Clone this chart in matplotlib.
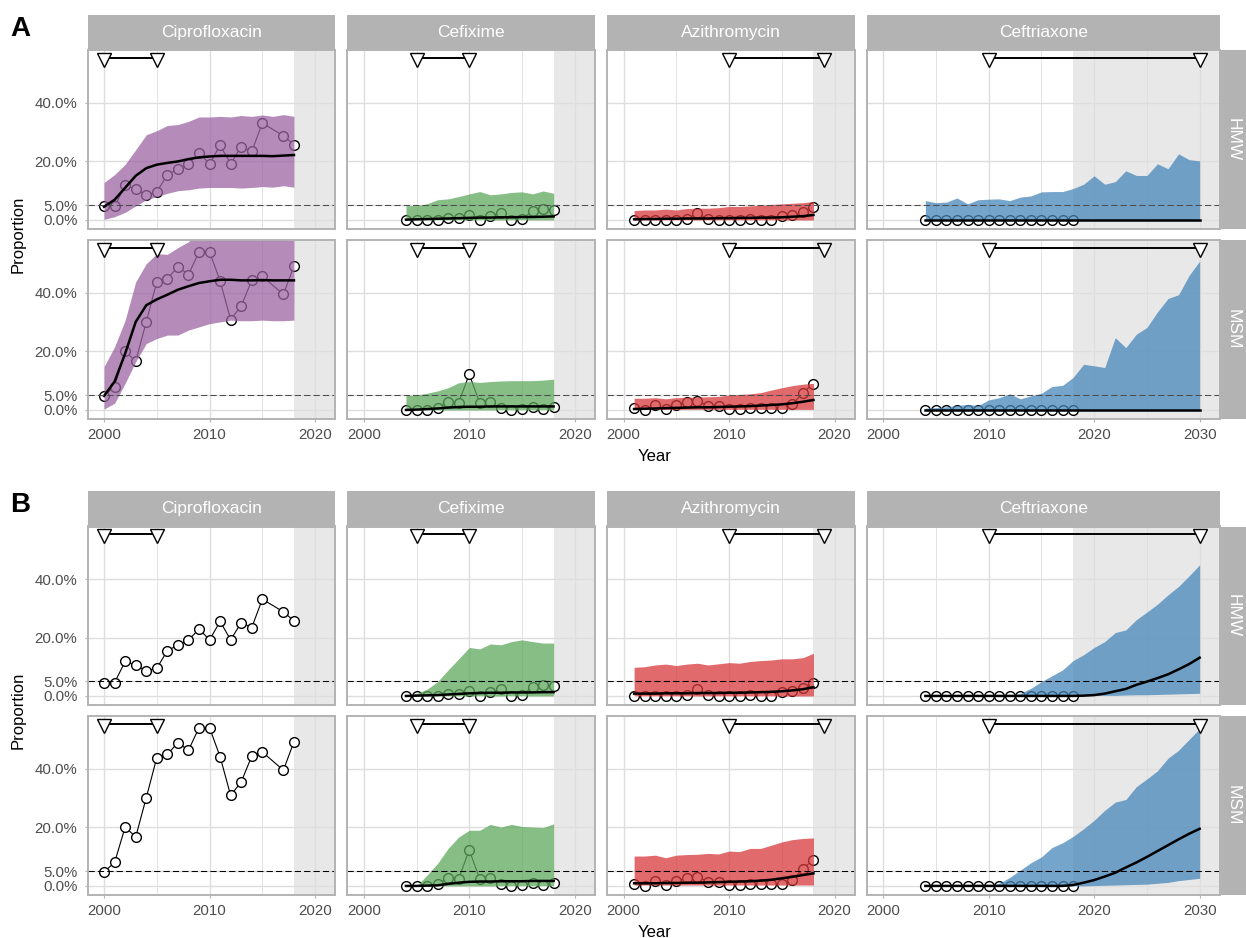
import matplotlib
matplotlib.use('Agg')
import matplotlib.pyplot as plt

plt.rcParams['font.family'] = ['Liberation Sans', 'DejaVu Sans']

W, H = 1246, 938

drugs = ['Ciprofloxacin', 'Cefixime', 'Azithromycin', 'Ceftriaxone']
groups = ['HMW', 'MSM']
fill_colors = ['#9B64A2', '#5EA85E', '#D7383B', '#4887BB']
policy_start = [2000, 2005, 2010, 2010]
policy_end = [2005, 2010, 2019, 2030]

# ---- observed proportions ----
cip_years = [2000, 2001, 2002, 2003, 2004, 2005, 2006, 2007, 2008, 2009, 2010,
             2011, 2012, 2013, 2014, 2015, 2017, 2018]
cip_hmw_obs = [0.046, 0.046, 0.118, 0.105, 0.086, 0.095, 0.155, 0.174, 0.191, 0.229,
               0.192, 0.255, 0.192, 0.251, 0.234, 0.331, 0.288, 0.257]
cip_msm_obs = [0.048, 0.080, 0.201, 0.167, 0.301, 0.438, 0.449, 0.489, 0.463, 0.540,
               0.540, 0.441, 0.309, 0.355, 0.443, 0.457, 0.395, 0.492]

cfx_years = [2004, 2005, 2006, 2007, 2008, 2009, 2010, 2011, 2012, 2013, 2014,
             2015, 2016, 2017, 2018]
cfx_hmw_obs = [0.0, 0.0, 0.0, 0.0, 0.008, 0.006, 0.017, 0.0, 0.015, 0.023, 0.0,
               0.002, 0.032, 0.038, 0.034]
cfx_msm_obs = [0.0, 0.0, 0.0, 0.006, 0.028, 0.025, 0.122, 0.023, 0.026, 0.006, 0.0,
               0.002, 0.009, 0.002, 0.011]

azm_years = [2001, 2002, 2003, 2004, 2005, 2006, 2007, 2008, 2009, 2010, 2011,
             2012, 2013, 2014, 2015, 2016, 2017, 2018]
azm_hmw_obs = [0.0, 0.0, 0.0, 0.0, 0.0, 0.003, 0.024, 0.002, 0.0, 0.0, 0.0,
               0.002, 0.0, 0.0, 0.015, 0.016, 0.027, 0.043]
azm_msm_obs = [0.005, 0.0, 0.018, 0.002, 0.017, 0.027, 0.031, 0.015, 0.012, 0.004,
               0.002, 0.005, 0.006, 0.008, 0.005, 0.019, 0.059, 0.090]

cro_years = [2004, 2005, 2006, 2007, 2008, 2009, 2010, 2011, 2012, 2013, 2014,
             2015, 2016, 2017, 2018]
cro_hmw_obs = [0.0, 0.0, 0.0, 0.0, 0.0, 0.0, 0.0, 0.0, 0.0, 0.0, 0.0, 0.0, 0.0, 0.0, 0.0]
cro_msm_obs = [0.0, 0.0, 0.0, 0.0, 0.0, 0.0, 0.0, 0.0, 0.0, 0.0, 0.0, 0.0, 0.0, 0.0, 0.0]

# ---- model A: median and interval ----
cip_fit_years = [2000, 2001, 2002, 2003, 2004, 2005, 2006, 2007, 2008, 2009, 2010,
                 2011, 2012, 2013, 2014, 2015, 2016, 2017, 2018]
cip_hmw_med_a = [0.045, 0.069, 0.110, 0.151, 0.177, 0.189, 0.195, 0.200, 0.208, 0.214,
                 0.217, 0.219, 0.219, 0.219, 0.219, 0.219, 0.218, 0.220, 0.222]
cip_hmw_lo_a = [0.002, 0.011, 0.026, 0.048, 0.069, 0.080, 0.091, 0.100, 0.103, 0.109,
                0.111, 0.111, 0.111, 0.109, 0.111, 0.114, 0.112, 0.117, 0.112]
cip_hmw_hi_a = [0.128, 0.155, 0.190, 0.240, 0.291, 0.305, 0.323, 0.326, 0.337, 0.352,
                0.352, 0.354, 0.352, 0.357, 0.354, 0.359, 0.354, 0.360, 0.354]
cip_msm_med_a = [0.048, 0.097, 0.193, 0.301, 0.358, 0.378, 0.394, 0.411, 0.423, 0.434,
                 0.440, 0.445, 0.445, 0.443, 0.443, 0.444, 0.443, 0.443, 0.443]
cip_msm_lo_a = [0.003, 0.023, 0.091, 0.165, 0.227, 0.244, 0.256, 0.256, 0.273, 0.284,
                0.295, 0.301, 0.307, 0.305, 0.305, 0.307, 0.305, 0.305, 0.307]
cip_msm_hi_a = [0.148, 0.216, 0.307, 0.438, 0.500, 0.534, 0.532, 0.555, 0.575, 0.610,
                0.620, 0.620, 0.620, 0.620, 0.620, 0.620, 0.620, 0.620, 0.620]

cfx_hmw_med_a = [0.001, 0.002, 0.003, 0.004, 0.005, 0.006, 0.007, 0.008, 0.008, 0.009,
                 0.009, 0.010, 0.010, 0.011, 0.012]
cfx_hmw_lo_a = [0.0, 0.0, 0.0, 0.0, 0.0, 0.0, 0.0, 0.0, 0.0, 0.0, 0.0, 0.0, 0.0, 0.0, 0.0]
cfx_hmw_hi_a = [0.049, 0.049, 0.055, 0.069, 0.072, 0.080, 0.089, 0.097, 0.086, 0.089,
                0.094, 0.096, 0.089, 0.099, 0.091]
cfx_msm_med_a = [0.0, 0.001, 0.003, 0.005, 0.008, 0.010, 0.011, 0.011, 0.012, 0.012,
                 0.012, 0.012, 0.012, 0.012, 0.012]
cfx_msm_lo_a = [0.0, 0.0, 0.0, 0.0, 0.0, 0.0, 0.0, 0.0, 0.0, 0.0, 0.0, 0.0, 0.0, 0.0, 0.0]
cfx_msm_hi_a = [0.049, 0.051, 0.057, 0.065, 0.076, 0.093, 0.097, 0.094, 0.097, 0.099,
                0.100, 0.100, 0.100, 0.102, 0.105]

azm_hmw_med_a = [0.002, 0.003, 0.003, 0.004, 0.004, 0.005, 0.005, 0.005, 0.006, 0.006,
                 0.007, 0.007, 0.008, 0.008, 0.009, 0.011, 0.013, 0.017]
azm_hmw_lo_a = [0.0, 0.0, 0.0, 0.0, 0.0, 0.0, 0.0, 0.0, 0.0, 0.0, 0.0, 0.0, 0.0, 0.0,
                0.0, 0.0, 0.0, 0.0]
azm_hmw_hi_a = [0.032, 0.034, 0.034, 0.037, 0.034, 0.039, 0.040, 0.040, 0.042, 0.046,
                0.046, 0.048, 0.050, 0.053, 0.055, 0.057, 0.059, 0.063]
azm_msm_med_a = [0.003, 0.004, 0.005, 0.006, 0.007, 0.008, 0.009, 0.009, 0.010, 0.011,
                 0.012, 0.013, 0.015, 0.017, 0.019, 0.023, 0.028, 0.034]
azm_msm_lo_a = [0.002, 0.002, 0.002, 0.002, 0.002, 0.002, 0.002, 0.002, 0.002, 0.002,
                0.002, 0.002, 0.002, 0.002, 0.002, 0.002, 0.002, 0.002]
azm_msm_hi_a = [0.040, 0.040, 0.042, 0.038, 0.042, 0.043, 0.044, 0.045, 0.046, 0.051,
                0.053, 0.055, 0.059, 0.068, 0.076, 0.083, 0.088, 0.091]

cro_fit_years = [2004, 2005, 2006, 2007, 2008, 2009, 2010, 2011, 2012, 2013, 2014,
                 2015, 2016, 2017, 2018, 2019, 2020, 2021, 2022, 2023, 2024, 2025,
                 2026, 2027, 2028, 2029, 2030]
cro_zero = [0.0, 0.0, 0.0, 0.0, 0.0, 0.0, 0.0, 0.0, 0.0, 0.0, 0.0, 0.0, 0.0, 0.0,
            0.0, 0.0, 0.0, 0.0, 0.0, 0.0, 0.0, 0.0, 0.0, 0.0, 0.0, 0.0, 0.0]
cro_hmw_hi_a = [0.066, 0.059, 0.061, 0.075, 0.055, 0.069, 0.071, 0.072, 0.066, 0.078,
                0.082, 0.096, 0.097, 0.097, 0.107, 0.122, 0.151, 0.122, 0.131, 0.168,
                0.152, 0.152, 0.192, 0.175, 0.226, 0.206, 0.202]
cro_msm_hi_a = [0.006, 0.008, 0.011, 0.015, 0.019, 0.015, 0.034, 0.042, 0.055, 0.038,
                0.048, 0.057, 0.080, 0.084, 0.111, 0.156, 0.151, 0.145, 0.247, 0.213,
                0.259, 0.282, 0.335, 0.381, 0.394, 0.460, 0.509]

# ---- model B: median and interval ----
cfx_hmw_med_b = [0.0, 0.001, 0.002, 0.003, 0.005, 0.007, 0.009, 0.010, 0.011, 0.011,
                 0.012, 0.012, 0.012, 0.013, 0.013]
cfx_hmw_hi_b = [0.003, 0.009, 0.023, 0.049, 0.089, 0.127, 0.166, 0.161, 0.178, 0.175,
                0.186, 0.192, 0.186, 0.181, 0.181]
cfx_msm_med_b = [0.0, 0.0, 0.001, 0.002, 0.007, 0.011, 0.014, 0.015, 0.015, 0.016,
                 0.016, 0.016, 0.017, 0.017, 0.017]
cfx_msm_hi_b = [0.0, 0.0, 0.037, 0.077, 0.128, 0.167, 0.190, 0.190, 0.210, 0.201,
                0.210, 0.203, 0.201, 0.199, 0.212]

azm_hmw_med_b = [0.008, 0.008, 0.008, 0.009, 0.009, 0.009, 0.010, 0.010, 0.010, 0.011,
                 0.011, 0.012, 0.013, 0.014, 0.016, 0.019, 0.023, 0.030]
azm_hmw_hi_b = [0.098, 0.100, 0.106, 0.109, 0.104, 0.109, 0.112, 0.106, 0.110, 0.114,
                0.112, 0.118, 0.121, 0.123, 0.127, 0.127, 0.131, 0.146]
azm_msm_med_b = [0.009, 0.009, 0.009, 0.010, 0.010, 0.011, 0.011, 0.012, 0.013, 0.014,
                 0.015, 0.016, 0.018, 0.021, 0.026, 0.031, 0.037, 0.043]
azm_msm_lo_b = [0.003, 0.003, 0.003, 0.003, 0.003, 0.003, 0.003, 0.003, 0.003, 0.003,
                0.003, 0.003, 0.003, 0.003, 0.003, 0.003, 0.003, 0.003]
azm_msm_hi_b = [0.102, 0.102, 0.105, 0.096, 0.105, 0.107, 0.108, 0.111, 0.109, 0.119,
                0.117, 0.128, 0.128, 0.139, 0.150, 0.158, 0.162, 0.164]

cro_hmw_med_b = [0.0, 0.0, 0.0, 0.0, 0.0, 0.0, 0.0, 0.0, 0.0, 0.0, 0.0, 0.0, 0.0, 0.0,
                 0.0, 0.001, 0.003, 0.008, 0.016, 0.024, 0.038, 0.049, 0.061, 0.074,
                 0.091, 0.109, 0.131]
cro_hmw_lo_b = [0.0, 0.0, 0.0, 0.0, 0.0, 0.0, 0.0, 0.0, 0.0, 0.0, 0.0, 0.0, 0.0, 0.0,
                0.0, 0.001, 0.001, 0.002, 0.002, 0.003, 0.004, 0.004, 0.005, 0.006,
                0.007, 0.008, 0.009]
cro_hmw_hi_b = [0.0, 0.0, 0.0, 0.0, 0.0, 0.0, 0.0, 0.0, 0.0, 0.009, 0.026, 0.049,
                0.069, 0.089, 0.121, 0.141, 0.166, 0.186, 0.217, 0.226, 0.261, 0.287,
                0.314, 0.346, 0.375, 0.411, 0.449]
cro_msm_med_b = [0.0, 0.0, 0.0, 0.0, 0.0, 0.0, 0.0, 0.0, 0.0, 0.0, 0.0, 0.0, 0.0, 0.0,
                 0.003, 0.011, 0.020, 0.032, 0.045, 0.063, 0.080, 0.099, 0.119, 0.139,
                 0.159, 0.178, 0.195]
cro_msm_lo_b = [0.0, 0.0, 0.0, 0.0, 0.0, 0.0, 0.0, 0.0, 0.0, 0.0, 0.0, 0.0, 0.0, 0.0,
                0.0, 0.0, 0.001, 0.002, 0.003, 0.004, 0.005, 0.006, 0.009, 0.012,
                0.018, 0.022, 0.026]
cro_msm_hi_b = [0.0, 0.0, 0.0, 0.0, 0.0, 0.0, 0.0, 0.009, 0.029, 0.054, 0.079, 0.099,
                0.131, 0.147, 0.169, 0.195, 0.224, 0.258, 0.286, 0.295, 0.339, 0.365,
                0.393, 0.436, 0.463, 0.500, 0.537]

obs = {
    ('Ciprofloxacin', 'HMW'): (cip_years, cip_hmw_obs),
    ('Ciprofloxacin', 'MSM'): (cip_years, cip_msm_obs),
    ('Cefixime', 'HMW'): (cfx_years, cfx_hmw_obs),
    ('Cefixime', 'MSM'): (cfx_years, cfx_msm_obs),
    ('Azithromycin', 'HMW'): (azm_years, azm_hmw_obs),
    ('Azithromycin', 'MSM'): (azm_years, azm_msm_obs),
    ('Ceftriaxone', 'HMW'): (cro_years, cro_hmw_obs),
    ('Ceftriaxone', 'MSM'): (cro_years, cro_msm_obs),
}

fits_a = {
    ('Ciprofloxacin', 'HMW'): (cip_fit_years, cip_hmw_lo_a, cip_hmw_med_a, cip_hmw_hi_a),
    ('Ciprofloxacin', 'MSM'): (cip_fit_years, cip_msm_lo_a, cip_msm_med_a, cip_msm_hi_a),
    ('Cefixime', 'HMW'): (cfx_years, cfx_hmw_lo_a, cfx_hmw_med_a, cfx_hmw_hi_a),
    ('Cefixime', 'MSM'): (cfx_years, cfx_msm_lo_a, cfx_msm_med_a, cfx_msm_hi_a),
    ('Azithromycin', 'HMW'): (azm_years, azm_hmw_lo_a, azm_hmw_med_a, azm_hmw_hi_a),
    ('Azithromycin', 'MSM'): (azm_years, azm_msm_lo_a, azm_msm_med_a, azm_msm_hi_a),
    ('Ceftriaxone', 'HMW'): (cro_fit_years, cro_zero, cro_zero, cro_hmw_hi_a),
    ('Ceftriaxone', 'MSM'): (cro_fit_years, cro_zero, cro_zero, cro_msm_hi_a),
}

fits_b = {
    ('Cefixime', 'HMW'): (cfx_years, cfx_hmw_lo_a, cfx_hmw_med_b, cfx_hmw_hi_b),
    ('Cefixime', 'MSM'): (cfx_years, cfx_msm_lo_a, cfx_msm_med_b, cfx_msm_hi_b),
    ('Azithromycin', 'HMW'): (azm_years, azm_hmw_lo_a, azm_hmw_med_b, azm_hmw_hi_b),
    ('Azithromycin', 'MSM'): (azm_years, azm_msm_lo_b, azm_msm_med_b, azm_msm_hi_b),
    ('Ceftriaxone', 'HMW'): (cro_fit_years, cro_hmw_lo_b, cro_hmw_med_b, cro_hmw_hi_b),
    ('Ceftriaxone', 'MSM'): (cro_fit_years, cro_msm_lo_b, cro_msm_med_b, cro_msm_hi_b),
}

# layout in pixels
col_x = [(87.7, 335.1), (347.4, 594.8), (607.2, 854.6), (866.8, 1219.7)]
xlims = [(1998.45, 2021.9), (1998.45, 2021.9), (1998.45, 2021.9), (1998.45, 2031.9)]
blocks = [
    dict(label='A', strip=(15.0, 50.3), rows=[(50.3, 229.0), (240.3, 419.0)],
         fits=fits_a, dash='#4D4D4D'),
    dict(label='B', strip=(491.0, 526.5), rows=[(526.5, 705.0), (716.0, 895.0)],
         fits=fits_b, dash='black'),
]
ylim = (-0.031, 0.58)
border = '#B3B3B3'


def px_axes(fig, x0, x1, y0, y1):
    return fig.add_axes([x0 / W, 1 - y1 / H, (x1 - x0) / W, (y1 - y0) / H])


def strip(fig, x0, x1, y0, y1, text, rot=0):
    ax = px_axes(fig, x0, x1, y0, y1)
    ax.set_facecolor(border)
    ax.set_xticks([])
    ax.set_yticks([])
    for s in ax.spines.values():
        s.set_visible(False)
    ax.text(0.5, 0.5, text, transform=ax.transAxes, ha='center', va='center',
            color='white', fontsize=12.5, rotation=rot)


fig = plt.figure(figsize=(W / 100, H / 100), dpi=100)

for blk in blocks:
    for j, drug in enumerate(drugs):
        x0, x1 = col_x[j]
        strip(fig, x0, x1, blk['strip'][0], blk['strip'][1], drug)
        for i, grp in enumerate(groups):
            y0, y1 = blk['rows'][i]
            ax = px_axes(fig, x0, x1, y0, y1)
            ax.set_xlim(xlims[j])
            ax.set_ylim(ylim)
            ax.set_axisbelow(True)

            major = [2000, 2010, 2020] + ([2030] if j == 3 else [])
            minor = [2005, 2015] + ([2025] if j == 3 else [])
            ax.set_xticks(major)
            ax.set_xticks(minor, minor=True)
            ax.set_yticks([0, 0.05, 0.2, 0.4])
            ax.set_yticklabels(['0.0%', '5.0%', '20.0%', '40.0%'])
            ax.grid(which='major', color='#DEDEDE', lw=1.0)
            ax.grid(which='minor', axis='x', color='#DEDEDE', lw=0.6)
            ax.tick_params(which='minor', length=0)
            ax.tick_params(which='major', length=2.5, width=0.8, color=border,
                           labelcolor='#4D4D4D', labelsize=10.8)
            ax.tick_params(axis='x', pad=4)
            ax.tick_params(axis='y', pad=5)
            if i == 0:
                ax.tick_params(axis='x', bottom=False, labelbottom=False)
            if j > 0:
                ax.tick_params(axis='y', left=False, labelleft=False)
            for s in ax.spines.values():
                s.set_color(border)
                s.set_linewidth(1.4)
                s.set_zorder(10)

            # projection period shading
            ax.axvspan(2018, xlims[j][1], color='#E8E8E8', lw=0, zorder=0.2)

            # observed data
            yrs, vals = obs[(drug, grp)]
            ax.plot(yrs, vals, color='black', lw=0.8, marker='o', ms=7,
                    mfc='white', mec='black', mew=1.0, zorder=2)

            # model interval and median
            fit = blk['fits'].get((drug, grp))
            if fit is not None:
                fy, lo, med, hi = fit
                ax.fill_between(fy, lo, hi, color=fill_colors[j], alpha=0.75,
                                lw=0, zorder=3)
                ax.plot(fy, med, color='black', lw=1.8, zorder=4)

            ax.axhline(0.05, color=blk['dash'], lw=0.75, ls=(0, (6, 3)), zorder=4.5)

            # policy period
            ax.plot([policy_start[j], policy_end[j]], [0.554, 0.554], color='black',
                    lw=1.4, zorder=5, solid_capstyle='butt')
            ax.plot([policy_start[j], policy_end[j]], [0.547, 0.547], ls='none',
                    marker='v', ms=10, mfc='white', mec='black', mew=1.0, zorder=6,
                    clip_on=False)

            if j == 3:
                strip(fig, 1219.7, 1246, y0, y1, grp, rot=270)

    top = blk['strip'][0]
    fig.text(10 / W, 1 - (top + 20.5) / H, blk['label'], fontsize=20,
             fontweight='bold', va='baseline', ha='left')
    r0, r1 = blk['rows'][0][0], blk['rows'][1][1]
    fig.text(18 / W, 1 - (r0 + r1) / 2 / H, 'Proportion', rotation=90,
             fontsize=12, ha='center', va='center')
    fig.text(655 / W, 1 - (r1 + 37.5) / H, 'Year', fontsize=12,
             ha='center', va='center')

fig.savefig('out.png', dpi=100)
